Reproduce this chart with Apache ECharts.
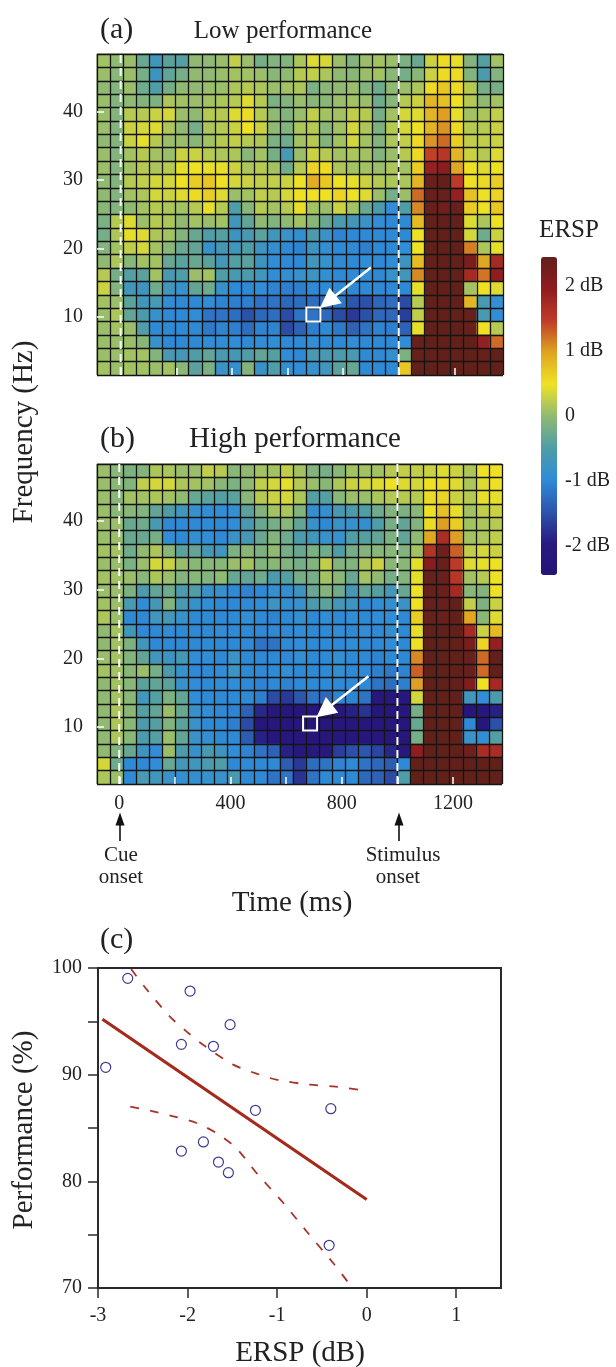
<!DOCTYPE html>
<html><head><meta charset="utf-8">
<style>html,body{margin:0;padding:0;background:#fff}#c{width:616px;height:1367px}</style>
<script src="https://cdn.jsdelivr.net/npm/echarts@6/dist/echarts.min.js"></script>
</head><body><div id="c"></div>
<script>
// ERSP (dB), rows top (high frequency) to bottom, columns left to right
const lowPerformance = [
[.1,0,.05,-.3,-.7,-.4,-.45,0,0,.05,.25,.05,-.2,-.1,-.1,.15,.4,.35,.05,-.1,.05,.1,.05,-.15,-.3,.3,.55,.45,-.1,-.45,.1],
[.05,-.05,.05,-.2,-.75,-.35,-.2,0,0,.05,.1,.1,.05,-.05,0,.2,.25,.15,0,-.05,.05,.1,-.05,-.2,-.05,.3,.55,.55,-.1,-.55,-.1],
[0,-.1,.05,-.25,-.5,-.2,0,0,.05,.05,.15,.2,.15,.05,.1,.15,-.15,-.05,0,.05,-.1,-.25,0,.05,.15,.55,.7,.55,.2,-.2,-.2],
[.05,-.1,0,-.1,-.15,.15,.1,.05,.1,.15,.2,.4,.2,-.15,-.1,.05,-.05,-.05,.05,.1,.05,-.25,-.05,.2,.3,.85,.75,.5,.2,0,.1],
[.05,-.1,.2,.2,.3,.35,.05,0,.2,.2,.4,.55,.2,0,-.1,.05,.25,.1,.1,.25,.2,-.2,.1,.35,.4,.85,1,.45,.1,.15,.25],
[.05,-.1,.3,.35,.4,.15,0,-.2,.15,.2,.3,.5,.3,0,-.1,.15,.2,-.05,.1,.35,.15,-.15,.2,.35,.5,.85,1.05,.55,.2,.2,.3],
[0,-.1,.3,.45,.2,.05,.05,-.05,.1,.2,.25,.2,.15,-.15,-.25,.1,.2,-.1,.1,.35,.1,-.1,.15,.25,.55,1.05,1.25,.65,.25,.25,.3],
[.05,-.1,.1,.2,.1,.05,.3,.3,.2,.15,.15,-.05,.1,-.2,-.6,.05,.3,.2,.1,.15,.1,-.1,.05,.2,.55,1.45,1.55,.85,.3,.2,.4],
[.05,-.1,.1,.2,.15,.2,.45,.5,.45,.45,.3,.15,.2,.1,-.25,.2,.6,.55,.15,.1,.1,.05,.15,.1,.65,1.9,2,.95,.5,.4,.5],
[0,-.1,.2,.25,.35,.35,.5,.65,.7,.5,.35,.3,.25,.25,.3,.5,.9,.7,.5,.45,.3,.2,.15,.15,.85,2.4,2.45,1.5,.5,.55,.65],
[0,-.1,.1,.15,.35,.3,.4,.55,.65,.4,.05,.1,.25,.2,.35,.5,.5,.5,.6,.5,.4,.05,-.2,.05,1.25,2.4,2.4,1.9,.75,.5,.6],
[-.05,-.1,0,.1,.2,.15,.1,.2,.45,.2,-.5,-.05,.2,.1,.2,.45,.1,.05,.3,.1,-.3,-.55,-.95,-.5,1.1,2.4,2.3,2.4,.65,.5,.7],
[-.15,.2,.4,.05,.2,.15,0,.1,.05,.1,-.7,-.35,0,-.1,0,.1,-.05,-.3,-.55,-.65,-.8,-.95,-1,-1,.8,2.45,2.45,2.45,.4,.15,.5],
[-.2,.15,.45,.4,.15,.1,-.1,-.3,-.5,-.45,-.75,-.6,-.4,-.7,-.8,-.9,-.55,-.8,-1.05,-1,-1,-1,-1,-1,.5,2.45,2.45,2.45,.35,-.25,.3],
[-.1,.1,.25,.35,.1,-.05,-.3,-.35,-.85,-.65,-.7,-.5,-.75,-.9,-1,-1.05,-.75,-.9,-1,-1,-1.1,-1,-1,-.95,.5,2.45,2.45,2.45,1.15,.15,.45],
[0,.15,-.05,.1,.1,-.3,-.4,-.3,-.4,-.65,-.45,-.4,-.75,-.95,-1,-1,-.7,-.85,-1,-1,-.95,-1,-.95,-.75,.8,2.45,2.45,2.45,2.2,.95,1.75],
[.2,-.2,-.45,-.4,.1,-.6,-.5,.05,.1,-.5,-.6,-.55,-.7,-.95,-.9,-.85,-.75,-.9,-1,-1,-.95,-1,-.85,-.7,1.1,2.45,2.45,2.45,1.75,1.2,1.95],
[.3,-.1,-.7,-.75,-.25,-.7,-.85,-.35,-.25,-.85,-1,-1,-.95,-1.05,-1.1,-1.1,-1,-1,-1,-1,-1,-1,-1,-1,.45,2.45,2.45,2.45,.1,.5,.4],
[.1,.05,-.4,-.7,-.6,-.95,-1,-1,-.95,-1.05,-1.1,-1.1,-1.2,-1.2,-1.3,-1.25,-1.25,-1.25,-1.15,-1.45,-1.5,-1.3,-1.25,-1.55,.2,2.45,2.45,2.45,.85,-.6,-.9],
[.05,.15,-.35,-.55,-.85,-1,-1,-.95,-1.2,-1.2,-1.25,-1.5,-1.3,-1.25,-1.55,-1.2,-1.2,-1.3,-1.55,-1.7,-1.5,-1.3,-1.3,-1.65,.25,2.45,2.45,2.45,2.4,-.6,-.95],
[.05,.1,.05,-.5,-1,-1,-1,-1,-1.15,-1.05,-1.1,-1.25,-1.05,-1.05,-1.55,-1.35,-1.1,-1,-1.15,-1.35,-1.2,-1.05,-1.1,-1.35,.45,2.45,2.45,2.45,2.4,.5,.2],
[.05,.05,.05,-.05,-.85,-1,-1,-1,-.95,-.95,-.95,-1,-.95,-.95,-1,-1,-.95,-1,-1,-.95,-1,-1,-1,-.95,2.4,2.45,2.45,2.45,2.45,1.9,1.25],
[.05,.05,.1,.1,-.1,-.6,-.65,-.5,-.35,-.6,-.65,-.5,-.35,-.45,-.95,-1,-.6,-.6,-.55,-.6,-1,-1,-.9,-.15,2.4,2.45,2.45,2.45,2.45,2.4,2.45],
[.1,.05,.1,.1,.05,.1,-.05,-.4,-.15,-.8,-.9,-.1,-.8,-.5,-.9,-.95,-.85,-.7,-.4,-.3,-1,-1,-1,.7,2.45,2.45,2.45,2.45,2.45,2.45,2.45]
];
const highPerformance = [
[.05,-.05,-.15,-.1,.15,.15,.05,.05,.25,.2,-.05,0,.1,.1,.25,.1,-.1,-.2,-.05,.1,.1,.1,.2,.25,.25,.3,.4,.3,.15,.5,.5],
[.05,-.05,-.1,.25,.35,.35,.15,.1,.1,-.05,-.15,0,.25,.35,.45,.2,.05,-.05,.15,.3,.35,.4,.5,.4,.35,.5,.55,.4,.15,.4,.5],
[.05,-.05,.1,.1,.15,.1,0,-.3,-.4,-.45,-.4,-.05,.2,.3,.35,.15,-.45,-.45,-.05,.05,.05,.15,.2,.2,.2,.55,.6,.3,.2,.45,.45],
[.05,-.05,-.05,-.1,-.35,-.5,-.7,-.85,-.95,-.95,-.9,-.4,-.1,.1,.15,-.1,-.9,-.9,-.6,-.55,-.5,-.25,-.1,-.15,-.05,.5,.75,.45,.1,.25,.3],
[.05,.05,-.3,-.25,-.6,-1,-1,-1,-1,-1,-.95,-.6,-.3,-.2,-.05,-.35,-.85,-1,-.8,-.85,-.9,-.5,-.2,-.35,-.1,.55,1,.65,.1,.15,.2],
[.05,.05,-.3,-.3,-.2,-.95,-1,-.9,-.95,-1,-.8,-.65,-.3,-.1,-.25,-.55,-.7,-.85,-.85,-.5,-.45,-.35,-.15,-.35,0,.95,1.7,1,.1,.15,.25],
[.1,.1,-.25,0,.15,-.05,-.4,-.35,-.65,-.7,-.15,-.05,-.15,0,-.2,-.3,-.15,-.25,-.5,-.2,-.1,-.05,-.05,-.1,.1,1.6,2.3,1.3,.25,.35,.3],
[.05,.05,-.15,.05,.35,.3,.05,-.05,-.05,-.05,.05,.1,-.1,-.05,-.1,-.2,-.1,.25,-.1,-.1,.15,.3,-.05,-.05,.45,2.05,2.4,1.5,.4,.45,.5],
[.1,.1,.05,-.05,.15,.05,-.1,-.05,-.1,0,-.3,-.35,-.25,-.55,-.45,-.2,-.2,.1,-.05,-.3,.1,0,-.2,-.1,.45,2.4,2.4,1.55,.1,.2,.5],
[.05,.05,-.15,-.55,-.35,-.25,-.55,-.5,-.85,-.85,-1,-1.05,-1,-.9,-.9,-.75,-.3,-.1,-.25,-.65,-.35,-.45,-.65,-.3,.5,2.4,2.35,1.75,-.05,-.1,.5],
[.1,.05,-.6,-.95,-.65,-.1,-.6,-.85,-.95,-1,-1,-1,-.95,-.75,-.9,-.85,-.55,-.4,-.65,-.75,-1,-.95,-.9,-.8,.5,2.4,2.4,2.45,.25,-.15,.3],
[.15,.05,-1,-1,-.7,-.65,-.85,-1,-1,-1,-1,-.95,-1,-1.05,-1,-.9,-1,-.95,-1,-.95,-1,-.95,-.95,-1,.65,2.4,2.4,2.45,.95,-.05,.4],
[0,.1,-.7,-1,-1,-.95,-1,-1,-1,-.95,-1,-1,-1,-1,-1,-.95,-1,-1,-.95,-1,-.95,-1,-.9,-1,.45,2.45,2.45,2.45,1.75,.3,.8],
[0,.1,-.15,-.7,-1,-1,-1,-1,-1,-1,-1,-1,-1.2,-1.2,-1,-.95,-1,-1,-1,-.95,-1,-1,-.95,-1,.5,2.45,2.45,2.45,2.2,.6,1.9],
[.05,.1,-.1,-.35,-.7,-.75,-.65,-.95,-.95,-1,-.8,-1,-1,-1,-1,-.9,-1,-1,-.9,-1,-1,-1.05,-1,-1,1.1,2.45,2.45,2.45,2.4,1.25,2.45],
[.1,.1,-.05,.05,-.2,-.55,-.85,-1,-1,-.95,-.75,-1,-1,-1,-.9,-1,-1,-1,-.9,-1,-1,-1.1,-1.15,-1.05,1.3,2.45,2.45,2.45,2.4,1.25,2.45],
[0,.1,-.05,-.4,-.35,-.4,-.85,-.95,-1,-.95,-.95,-1,-1.05,-1,-1.05,-1,-1,-1,-1,-1,-1,-1.2,-1.25,-1.1,1,2.45,2.45,2.45,2.1,.5,1.75],
[0,.1,-.05,-.7,-.45,-.15,-.35,-.95,-1,-1,-1,-1,-1.1,-1.55,-1.7,-1.45,-1.2,-1.3,-1.05,-1.05,-1.2,-2.1,-2.1,-2.1,.35,2.45,2.45,2.45,-.7,-.95,-.55],
[0,.15,-.05,-.45,-.35,.05,-.3,-.85,-.95,-1,-1.05,-1.35,-1.85,-2.1,-2.2,-2.2,-2.2,-2.2,-2.1,-1.9,-1.75,-2.2,-2.2,-2.2,-.2,2.45,2.45,2.45,-2.2,-2.2,-1.9],
[0,.15,-.05,-.55,-.45,-.1,-.4,-.8,-1,-1,-1.1,-1.55,-2.2,-2.2,-2.2,-2.2,-2.2,-2.2,-2.2,-2.2,-2.2,-2.2,-2.2,-2.2,-.3,2.45,2.45,2.45,-1,-2.2,-1.5],
[0,.15,-.05,-.55,-.45,.05,-.35,-.8,-.9,-1,-1,-1.4,-1.9,-2.2,-2.2,-2.2,-2.2,-2.2,-2.2,-2.2,-2.2,-2.2,-2.2,-2.2,-.2,2.45,2.45,2.45,-.8,-.95,-.45],
[0,-.1,-.3,-.75,-.95,.05,-.55,-.85,-.6,-.75,-.95,-1.05,-1.2,-1.35,-1.9,-2.1,-2,-2,-1.65,-1.5,-1.45,-1.6,-1.85,-2.1,1.95,2.45,2.45,2.45,2.3,1.7,1.7],
[.35,-.25,-1,-1,-.95,-.3,-.65,-.7,-.55,-.5,-1,-1,-1,-1,-1.4,-1.7,-1.25,-1.2,-1.05,-1,-1.2,-1.3,-1.4,-1,2.45,2.45,2.45,2.45,2.45,2.45,2.45],
[.15,.05,-1,-.6,-.7,-.8,-.9,-.9,-.85,-.85,-.6,-1,-1,-1.2,-1.2,-1.75,-1.2,-1,-1,-1,-1.3,-1.35,-1.55,-.5,2.45,2.45,2.45,2.45,2.45,2.45,2.45]
];
const timeTicks = [0,200,400,600,800,1000,1200];
const timeLabels = [0,400,800,1200];
const freqTicks = [10,20,30,40];
const onsetTimes = [0,1000];
const colorbarTicks = [-2,-1,0,1,2];
// panel (c)
const subjectErsp = [-2.914,-2.668,-1.972,-1.525,-2.069,-1.711,-1.242,-0.40,-1.823,-2.069,-1.655,-1.544,-0.419];
const subjectPerf = [90.69,99.03,97.84,94.69,92.84,92.66,86.66,86.81,83.69,82.84,81.81,80.81,74.0];
const fitLine = [[-2.95,95.2],[0,78.3]];
const upperBand = [[-2.63,99.9],[-2.46,98.03],[-2.2,95.47],[-2.013,94.06],[-1.827,92.8],[-1.49,90.94],[-1.23,90.1],[-1.007,89.53],[-.635,89.06],[-.374,88.9],[-.095,88.6]];
const lowerBand = [[-2.64,87],[-2.385,86.56],[-2.16,86.1],[-1.9,85.47],[-1.68,84.53],[-1.455,83.1],[-1.23,80.78],[-.93,77.97],[-.67,75.3],[-.374,72.34],[-.207,70.53]];
const highlight = {low:[693,10.3], high:[686,10.5]};
const pointer = {low:[[900,17.2],[745,12.17]], high:[[896,17.4],[737,12.33]]};

const SERIF = '"Liberation Serif","Times New Roman",serif';
const INK = '#222';
const colorStops = ['#261477','#271a80','#2c55ab','#2f8cd8','#4f9da6','#90ba72','#eee224','#dfa322','#bf3c28','#8f1c20','#62201a'];

const cols = lowPerformance[0].map((_, i) => 'c' + i);
const rows = lowPerformance.map((_, i) => 'r' + i);
const cells = m => m.flatMap((r, y) => r.map((v, x) => [x, y, v]));

const catAxis = (list, grid, inverse) => ({type:'category', gridIndex:grid, data:list, inverse:!!inverse, z:4,
  axisLine:{show:false}, axisTick:{show:false}, axisLabel:{show:false},
  splitLine:{show:true, interval:0, lineStyle:{color:'#141414', width:1.3}}});
function timeAxis(grid, min, max, labels){
  return {type:'value', gridIndex:grid, min, max, position:'bottom', z:10, splitLine:{show:false}, axisLine:{show:false, onZero:false},
    axisTick:{show:true, inside:true, length:7, customValues:timeTicks, lineStyle:{color:'#fff', width:1.5}},
    axisLabel:{show:labels, customValues:timeLabels, margin:10, fontFamily:SERIF, fontSize:20, color:INK, formatter:v => String(v)}};
}
function freqAxis(grid, min, max){
  return {type:'value', gridIndex:grid, min, max, position:'left', z:10, splitLine:{show:false}, axisLine:{show:false, onZero:false},
    axisTick:{show:true, inside:true, length:7, customValues:freqTicks, lineStyle:{color:'#fff', width:1.5}},
    axisLabel:{show:true, customValues:freqTicks, margin:14, padding:[3,0,0,0], fontFamily:SERIF, fontSize:20, color:INK}};
}
function panelSeries(matrix, xCat, yCat, xVal, yVal, fMin, fMax, box, arrow){
  return [
    {type:'heatmap', xAxisIndex:xCat, yAxisIndex:yCat, data:cells(matrix), progressive:0, animation:false,
      itemStyle:{borderWidth:0}, emphasis:{disabled:true}, z:2},
    ...onsetTimes.map(t => ({type:'line', xAxisIndex:xVal, yAxisIndex:yVal, data:[[t,fMin],[t,fMax]], symbol:'none', z:5, animation:false,
      lineStyle:{color:'#fff', width:2, type:[8,5]}})),
    {type:'scatter', xAxisIndex:xVal, yAxisIndex:yVal, data:[box], symbol:'rect', symbolSize:14, z:6, animation:false,
      itemStyle:{color:'rgba(0,0,0,0)', borderColor:'#fff', borderWidth:2, opacity:1}},
    {type:'lines', coordinateSystem:'cartesian2d', xAxisIndex:xVal, yAxisIndex:yVal, data:[{coords:arrow}], symbol:['none','path://M0,-11 L7,11 L-7,11 Z'], symbolSize:[0,20], z:7, animation:false,
      lineStyle:{color:'#fff', width:2.5, opacity:1}}
  ];
}
const txt = (text, x, y, size, opt={}) => ({type:'text', x, y, rotation:opt.rot||0, z:20, silent:true,
  style:{text, font:`${size}px ${SERIF}`, fill:INK, textAlign:opt.align||'center', textVerticalAlign:'middle'}});
const upArrow = (x, top, bot) => ({type:'group', z:20, silent:true, children:[
  {type:'line', shape:{x1:x,y1:top+8,x2:x,y2:bot}, style:{stroke:'#111', lineWidth:1.6}},
  {type:'polygon', shape:{points:[[x,top],[x-4.5,top+13],[x+4.5,top+13]]}, style:{fill:'#111'}}]});

const option = {
  backgroundColor:'#fff', animation:false,
  grid:[
    {left:97, top:54, width:406, height:321, show:true, borderColor:'#6e6e6e', borderWidth:1},
    {left:97, top:464, width:405, height:320, show:true, borderColor:'#6e6e6e', borderWidth:1},
    {left:98, top:968, width:403, height:320, show:true, borderColor:'#2a2a2a', borderWidth:2},
    {left:541, top:257, width:16, height:318}
  ],
  xAxis:[
    catAxis(cols,0),
    timeAxis(0,-85,1375,false),
    catAxis(cols,1),
    timeAxis(1,-80,1376,true),
    {type:'value', gridIndex:2, min:-3, max:1.5, position:'bottom', splitLine:{show:false},
      axisLine:{show:true, onZero:false, lineStyle:{color:'#2a2a2a', width:2}},
      axisTick:{show:true, length:10, customValues:[-3,-2,-1,0,1], lineStyle:{color:'#2a2a2a', width:1.5}},
      axisLabel:{customValues:[-3,-2,-1,0,1], margin:18, fontFamily:SERIF, fontSize:20, color:INK}},
    {type:'value', gridIndex:3, show:false, min:0, max:1}
  ],
  yAxis:[
    catAxis(rows,0,true),
    freqAxis(0,1.42,48.5),
    catAxis(rows,1,true),
    freqAxis(1,1.7,48.3),
    {type:'value', gridIndex:2, min:70, max:100, position:'left', splitLine:{show:false},
      axisLine:{show:true, onZero:false, lineStyle:{color:'#2a2a2a', width:2}},
      axisTick:{show:true, length:10, customValues:[70,75,80,85,90,95,100], lineStyle:{color:'#2a2a2a', width:1.5}},
      axisLabel:{customValues:[70,80,90,100], margin:16, padding:[6,0,0,0], fontFamily:SERIF, fontSize:20, color:INK}},
    {type:'value', gridIndex:3, min:-2.45, max:2.45, position:'right', splitLine:{show:false}, axisLine:{show:false, onZero:false}, axisTick:{show:false},
      axisLabel:{customValues:colorbarTicks, margin:8, padding:[4,0,0,0], fontFamily:SERIF, fontSize:20, color:INK, formatter:v => v === 0 ? '0' : v + ' dB'}}
  ],
  visualMap:{type:'continuous', seriesIndex:[0,5], min:-2.45, max:2.45, calculable:false, showLabel:false, text:null, padding:0, left:541, top:257, itemWidth:16, itemHeight:318, inRange:{color:colorStops}, hoverLink:false},
  series:[
    ...panelSeries(lowPerformance,0,0,1,1,1.42,48.5,highlight.low,pointer.low),
    ...panelSeries(highPerformance,2,2,3,3,1.7,48.3,highlight.high,pointer.high),
    {type:'line', xAxisIndex:4, yAxisIndex:4, data:upperBand, smooth:0.3, symbol:'none', animation:false, lineStyle:{color:'#a8332a', width:1.8, type:[9,11]}},
    {type:'line', xAxisIndex:4, yAxisIndex:4, data:lowerBand, smooth:0.3, symbol:'none', animation:false, lineStyle:{color:'#a8332a', width:1.8, type:[9,11]}},
    {type:'line', xAxisIndex:4, yAxisIndex:4, data:fitLine, symbol:'none', animation:false, lineStyle:{color:'#a52a1c', width:3.2}},
    {type:'scatter', xAxisIndex:4, yAxisIndex:4, data:subjectErsp.map((x,i)=>[x,subjectPerf[i]]), symbol:'circle', symbolSize:10, animation:false,
      itemStyle:{color:'rgba(0,0,0,0)', borderColor:'#3d3a97', borderWidth:1.2, opacity:1}, z:6}
  ],
  graphic:[
    txt('(a)',100,30,30,{align:'left'}), txt('Low performance',283,31,25),
    txt('(b)',100,439,30,{align:'left'}), txt('High performance',295,439,29),
    txt('(c)',100,940,30,{align:'left'}),
    txt('ERSP',569,230,25),
    txt('Frequency (Hz)',24,432,29,{rot:Math.PI/2}),
    txt('Performance (%)',24,1130,29,{rot:Math.PI/2}),
    txt('Time (ms)',292,903,29),
    txt('ERSP (dB)',300,1353,29),
    txt('Cue',121,855,21), txt('onset',121,877,21),
    txt('Stimulus',403,855,21), txt('onset',398,877,21),
    upArrow(120,812.5,841), upArrow(399,812.5,841)
  ]
};
const chart = echarts.init(document.getElementById('c'), null, {renderer:'canvas', width:616, height:1367});
chart.setOption(option);
</script></body></html>
